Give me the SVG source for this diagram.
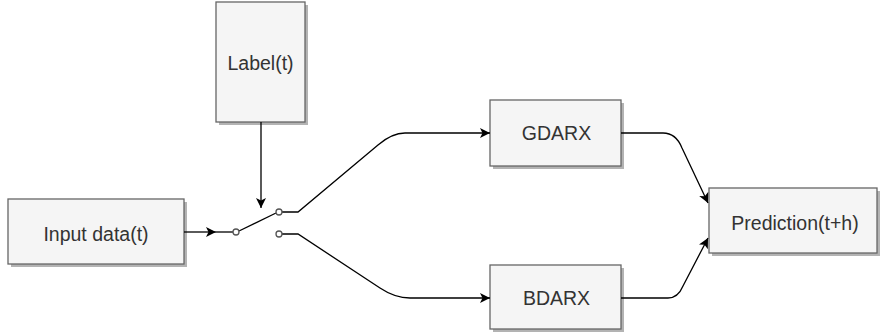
<svg xmlns="http://www.w3.org/2000/svg" width="882" height="336" viewBox="0 0 882 336">
<style>
.box{fill:#f5f5f5;stroke:#666;stroke-width:1.3}
.sh{fill:#b3b3b3}
.t{font-family:"Liberation Sans",Arial,sans-serif;font-size:19.5px;fill:#333;text-anchor:middle}
.c{fill:none;stroke:#000;stroke-width:1.3}
.o{fill:#fff;stroke:#555;stroke-width:1.3}
</style>
<defs>
<marker id="ar" viewBox="0 0 10 10" refX="10" refY="5" markerWidth="10" markerHeight="10" markerUnits="userSpaceOnUse" orient="auto">
<path d="M0,0 L10,5 L0,10 L2.5,5 Z" fill="#000"/>
</marker>
</defs>
<rect width="882" height="336" fill="#fff"/>
<g id="input">
<rect class="sh" x="11" y="202" width="176" height="65"/>
<rect class="box" x="8" y="199" width="176" height="65"/>
<text class="t" x="96" y="241">Input data(t)</text>
</g>
<g id="label">
<rect class="sh" x="219" y="5" width="89" height="120"/>
<rect class="box" x="216" y="2" width="89" height="120"/>
<text class="t" x="260.5" y="70">Label(t)</text>
</g>
<g id="gdarx">
<rect class="sh" x="493" y="103" width="131" height="66"/>
<rect class="box" x="490" y="100" width="131" height="66"/>
<text class="t" x="556.5" y="140">GDARX</text>
</g>
<g id="bdarx">
<rect class="sh" x="493" y="268" width="131" height="64"/>
<rect class="box" x="490" y="265" width="131" height="64"/>
<text class="t" x="556.5" y="305">BDARX</text>
</g>
<g id="prediction">
<rect class="sh" x="712" y="191" width="168" height="65"/>
<rect class="box" x="709" y="188" width="168" height="65"/>
<text class="t" x="795" y="230">Prediction(t+h)</text>
</g>
<g id="connectors">
<path class="c" d="M184,232 H216" marker-end="url(#ar)"/>
<path class="c" d="M261,122 V208" marker-end="url(#ar)"/>
<path class="c" d="M216,232 H233"/>
<path class="c" d="M239,231 L276,213"/>
<path class="c" d="M282,212 H298 L378,145 Q392,133 405,133 H490" marker-end="url(#ar)"/>
<path class="c" d="M282,234 H298 L380,288 Q395,298 410,298 H490" marker-end="url(#ar)"/>
<path class="c" d="M621,133 H663 Q676,133 682,148 L708,203" marker-end="url(#ar)"/>
<path class="c" d="M621,298 H668 Q678,298 683,286 L708,238" marker-end="url(#ar)"/>
<circle class="o" cx="236" cy="232" r="3"/>
<circle class="o" cx="279" cy="212" r="3"/>
<circle class="o" cx="279" cy="234" r="3"/>
</g>
</svg>
